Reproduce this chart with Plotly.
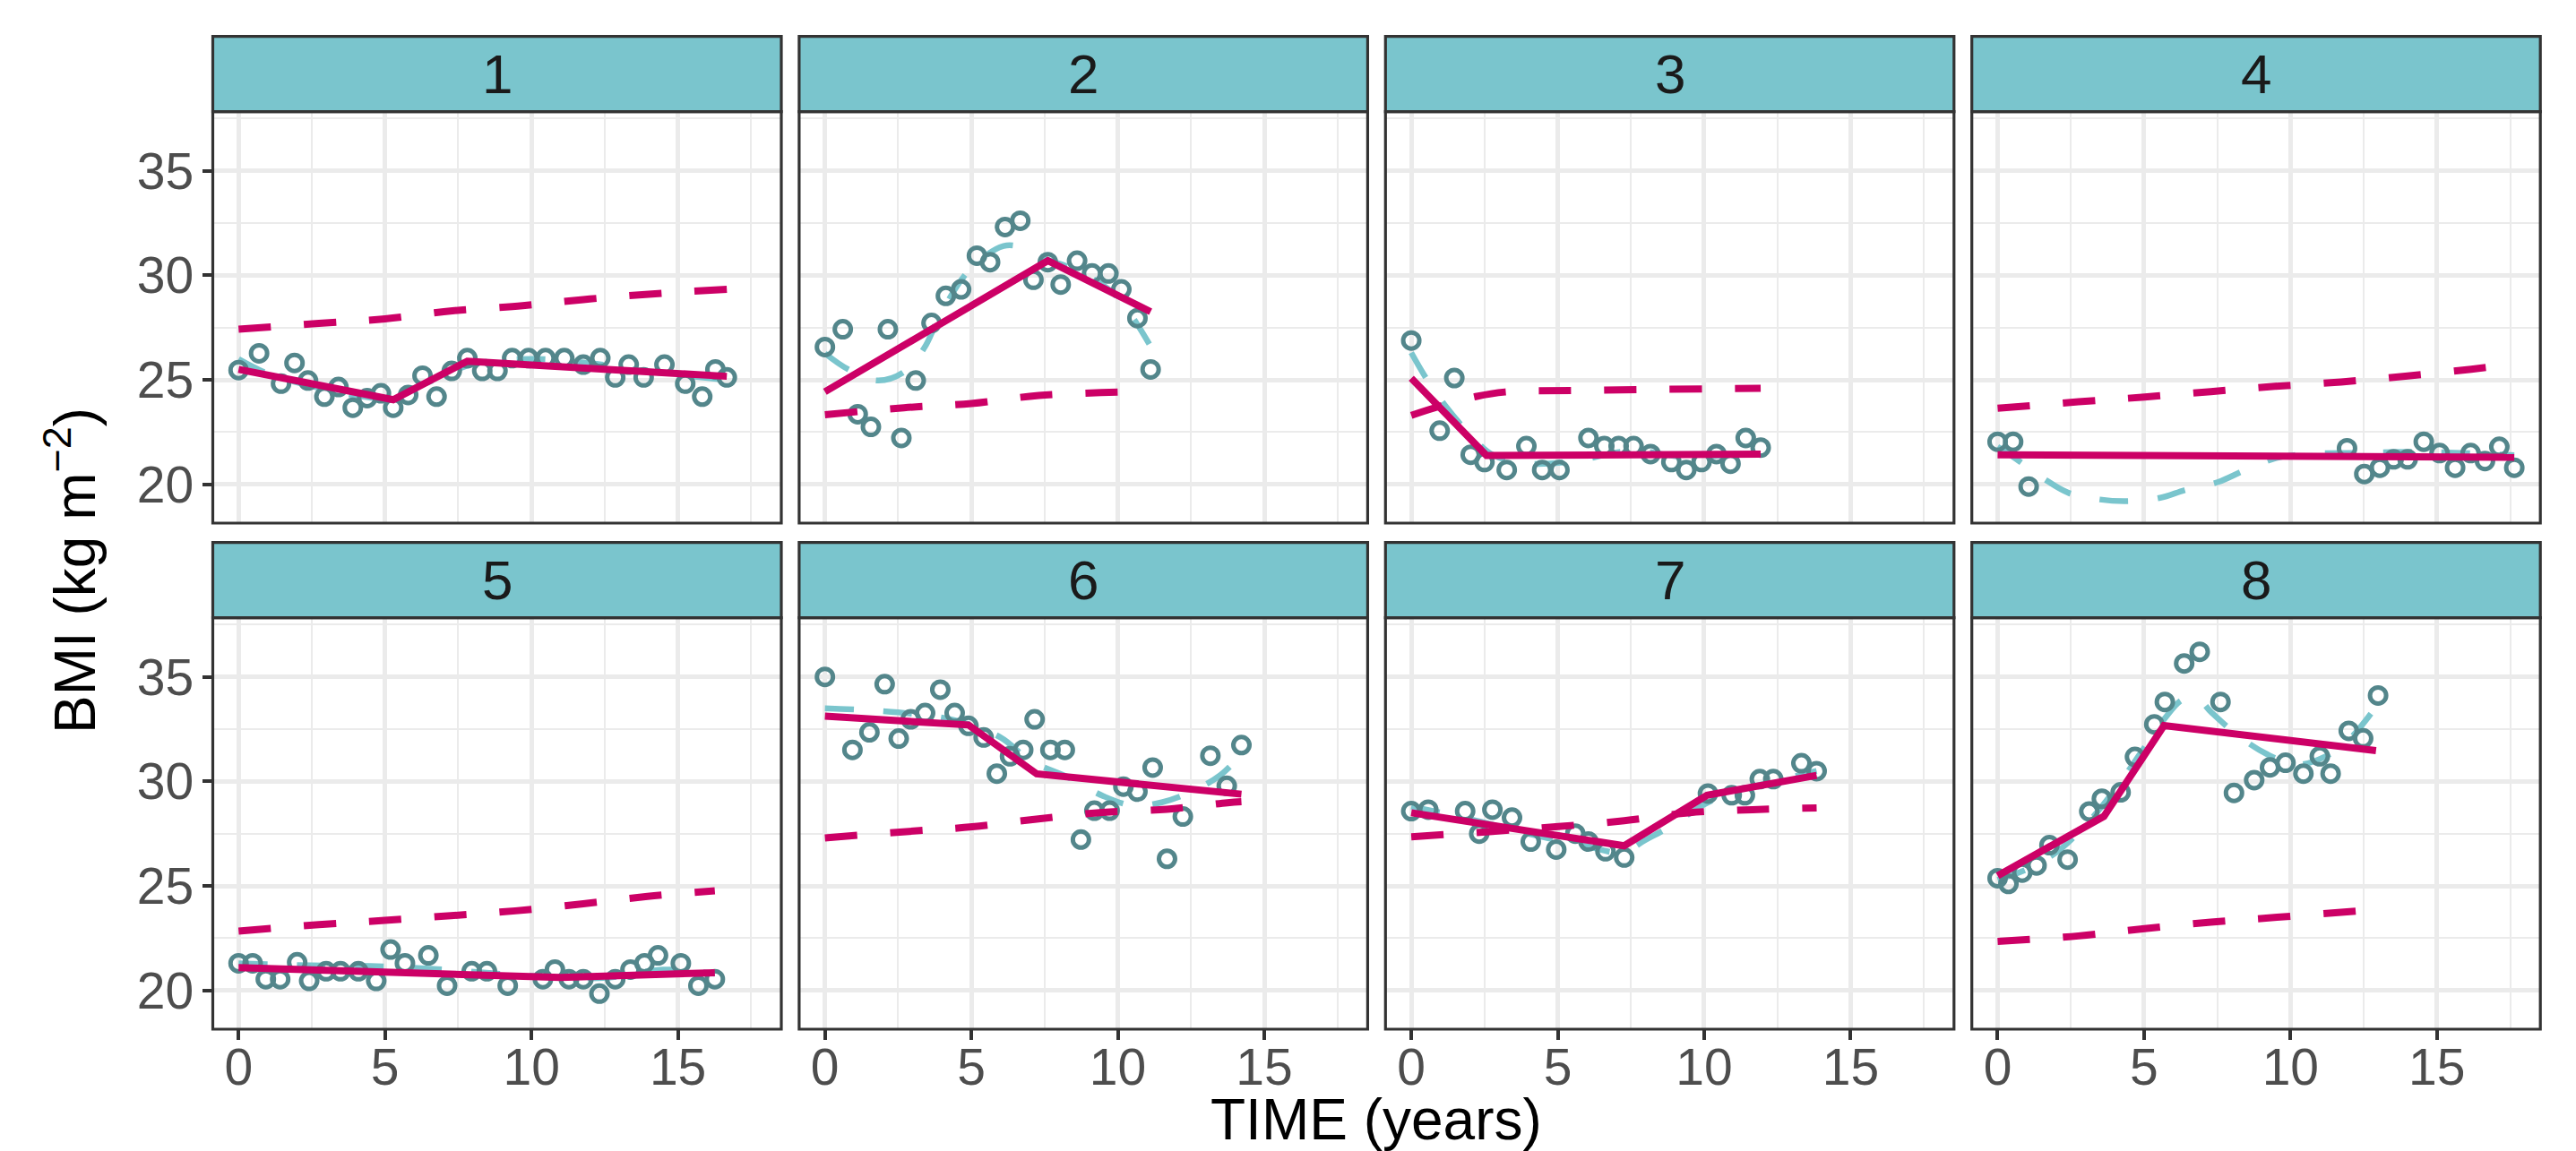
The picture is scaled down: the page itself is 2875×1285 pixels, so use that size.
import plotly.graph_objects as go

W, H = 2875, 1285

# ---------------- data ----------------
panel_labels = ["1", "2", "3", "4", "5", "6", "7", "8"]

# observed BMI (open circles)
p1_time = [0, 0.70, 1.45, 1.91, 2.37, 2.93, 3.41, 3.90, 4.39, 4.86, 5.28, 5.79, 6.28, 6.76, 7.28, 7.81,
           8.32, 8.84, 9.34, 9.90, 10.48, 11.12, 11.77, 12.35, 12.86, 13.32, 13.83, 14.54, 15.25, 15.83, 16.28, 16.67]
p1_bmi = [25.47, 26.27, 24.82, 25.81, 24.97, 24.20, 24.66, 23.67, 24.13, 24.36, 23.67, 24.28, 25.20, 24.20, 25.43, 26.04,
          25.43, 25.43, 26.04, 26.04, 26.04, 26.04, 25.73, 26.04, 25.12, 25.73, 25.12, 25.73, 24.82, 24.20, 25.50, 25.12]

p2_time = [0, 0.61, 1.12, 1.57, 2.15, 2.61, 3.10, 3.64, 4.13, 4.65, 5.19, 5.64, 6.15, 6.67, 7.12, 7.61,
           8.05, 8.61, 9.12, 9.68, 10.12, 10.67, 11.12]
p2_bmi = [26.57, 27.42, 23.36, 22.75, 27.42, 22.22, 24.97, 27.72, 29.02, 29.33, 30.94, 30.63, 32.31, 32.61, 29.79, 30.63,
          29.56, 30.70, 30.09, 30.09, 29.33, 27.95, 25.50]

p3_time = [0, 0.97, 1.47, 2.03, 2.50, 3.26, 3.93, 4.47, 5.06, 6.05, 6.59, 7.08, 7.59, 8.17, 8.88, 9.39,
           9.91, 10.42, 10.90, 11.42, 11.93]
p3_bmi = [26.88, 22.57, 25.09, 21.42, 21.07, 20.69, 21.83, 20.69, 20.69, 22.22, 21.83, 21.83, 21.83, 21.45, 21.07, 20.69,
          21.07, 21.45, 20.99, 22.22, 21.76]

p4_time = [0, 0.53, 1.06, 11.93, 12.52, 13.05, 13.52, 14.00, 14.55, 15.09, 15.62, 16.15, 16.64, 17.13, 17.64]
p4_bmi = [22.04, 22.04, 19.90, 21.73, 20.50, 20.80, 21.20, 21.20, 22.04, 21.50, 20.80, 21.50, 21.12, 21.80, 20.80]

p5_time = [0, 0.48, 0.93, 1.42, 2.00, 2.41, 2.99, 3.48, 4.09, 4.70, 5.19, 5.68, 6.48, 7.12, 7.96, 8.48,
           9.19, 10.39, 10.80, 11.28, 11.77, 12.32, 12.86, 13.38, 13.86, 14.32, 15.10, 15.70, 16.26]
p5_bmi = [21.30, 21.30, 20.54, 20.54, 21.35, 20.46, 20.92, 20.92, 20.92, 20.46, 21.96, 21.30, 21.68, 20.23, 20.92, 20.92,
          20.23, 20.54, 21.00, 20.54, 20.54, 19.85, 20.54, 21.00, 21.30, 21.68, 21.30, 20.23, 20.54]

p6_time = [0, 0.94, 1.52, 2.04, 2.52, 2.93, 3.42, 3.94, 4.43, 4.90, 5.42, 5.87, 6.32, 6.77, 7.16, 7.70,
           8.19, 8.74, 9.20, 9.72, 10.19, 10.67, 11.19, 11.68, 12.22, 13.16, 13.72, 14.22]
p6_bmi = [35.00, 31.51, 32.35, 34.65, 32.05, 32.97, 33.27, 34.39, 33.27, 32.66, 32.10, 30.37, 31.20, 31.51, 32.97, 31.51,
          31.51, 27.22, 28.60, 28.60, 29.75, 29.51, 30.66, 26.30, 28.32, 31.23, 29.79, 31.74]

p7_time = [0, 0.58, 1.84, 2.32, 2.77, 3.44, 4.08, 4.95, 5.60, 6.05, 6.63, 7.27, 10.13, 10.94, 11.39, 11.90,
           12.36, 13.32, 13.84]
p7_bmi = [28.58, 28.65, 28.58, 27.50, 28.65, 28.27, 27.12, 26.74, 27.50, 27.12, 26.66, 26.36, 29.42, 29.34, 29.34, 30.11,
          30.11, 30.87, 30.49]

p8_time = [0, 0.37, 0.84, 1.33, 1.77, 2.39, 3.13, 3.56, 4.20, 4.69, 5.35, 5.71, 6.37, 6.90, 7.61, 8.07,
           8.76, 9.30, 9.83, 10.44, 11.00, 11.37, 11.99, 12.48, 12.99]
p8_bmi = [25.37, 25.10, 25.64, 25.98, 26.95, 26.26, 28.56, 29.17, 29.48, 31.17, 32.73, 33.80, 35.64, 36.20, 33.80, 29.45,
          30.06, 30.67, 30.89, 30.37, 31.20, 30.37, 32.42, 32.06, 34.11]

# individual piecewise fit (solid crimson)
p1_fit_t = [0, 5.28, 7.81, 16.67];       p1_fit_y = [25.50, 24.05, 25.89, 25.17]
p2_fit_t = [0, 7.61, 11.12];             p2_fit_y = [24.43, 30.70, 28.26]
p3_fit_t = [0, 2.57, 11.93];             p3_fit_y = [25.08, 21.38, 21.45]
p4_fit_t = [0, 17.64];                   p4_fit_y = [21.42, 21.30]
p5_fit_t = [0, 11.0, 16.26];             p5_fit_y = [21.10, 20.62, 20.85]
p6_fit_t = [0, 4.90, 7.23, 14.22];       p6_fit_y = [33.12, 32.70, 30.36, 29.39]
p7_fit_t = [0, 7.27, 10.10, 13.84];      p7_fit_y = [28.50, 26.92, 29.34, 30.29]
p8_fit_t = [0, 3.63, 5.68, 12.92];       p8_fit_y = [25.49, 28.33, 32.67, 31.47]

# population mean trajectory (dashed crimson)
p1_pop_t = [0, 2.74, 5.0, 7.3, 9.7, 11.77, 14.0, 16.67]
p1_pop_y = [27.42, 27.70, 27.92, 28.30, 28.55, 28.84, 29.10, 29.33]
p2_pop_t = [0, 2.7, 5.0, 7.3, 11.12]
p2_pop_y = [23.33, 23.67, 23.87, 24.25, 24.45]
p3_pop_t = [0, 1.0, 2.2, 3.2, 6.0, 11.93]
p3_pop_y = [23.30, 23.75, 24.20, 24.42, 24.50, 24.60]
p4_pop_t = [0, 2.76, 5.02, 7.28, 9.47, 11.73, 13.92, 16.17, 17.64]
p4_pop_y = [23.64, 23.95, 24.18, 24.44, 24.69, 24.90, 25.18, 25.51, 25.75]
p5_pop_t = [0, 2.74, 4.99, 7.25, 9.45, 11.77, 13.96, 16.26]
p5_pop_y = [22.84, 23.15, 23.35, 23.58, 23.81, 24.15, 24.50, 24.77]
p6_pop_t = [0, 2.77, 5.03, 7.29, 9.48, 11.68, 13.74, 14.22]
p6_pop_y = [27.30, 27.60, 27.83, 28.21, 28.52, 28.67, 28.98, 29.03]
p7_pop_t = [0, 2.77, 5.02, 7.27, 9.46, 11.65, 13.84]
p7_pop_y = [27.35, 27.61, 27.84, 28.12, 28.50, 28.65, 28.73]
p8_pop_t = [0, 2.76, 5.02, 7.28, 9.54, 12.26, 12.99]
p8_pop_y = [22.35, 22.61, 22.96, 23.27, 23.50, 23.80, 23.88]

# smooth individual curve (dashed light teal)
p1_sm_t = [0, 1.0, 2.5, 4.0, 5.0, 6.5, 8.0, 10.0, 12.0, 14.0, 16.67]
p1_sm_y = [26.00, 25.30, 24.70, 24.25, 24.15, 24.90, 25.75, 26.00, 25.80, 25.40, 25.00]
p2_sm_t = [0, 0.8, 1.77, 2.67, 3.38, 3.9, 4.9, 6.1, 6.8, 7.5, 8.5, 9.8, 10.5, 11.12]
p2_sm_y = [26.27, 25.50, 24.97, 25.35, 26.50, 28.00, 30.20, 31.40, 31.30, 30.80, 30.30, 29.20, 28.00, 26.60]
p3_sm_t = [0, 0.5, 1.2, 2.0, 2.8, 4.0, 5.5, 7.5, 9.5, 11.93]
p3_sm_y = [26.30, 25.10, 23.70, 22.40, 21.40, 21.00, 21.10, 21.60, 21.30, 21.60]
p4_sm_t = [0, 0.65, 1.57, 2.43, 3.49, 4.42, 5.55, 6.41, 7.54, 8.41, 9.54, 10.5, 12.0, 14.5, 17.64]
p4_sm_y = [21.80, 21.20, 20.28, 19.59, 19.28, 19.20, 19.36, 19.74, 20.12, 20.66, 21.27, 21.45, 21.50, 21.55, 21.40]
p5_sm_t = [0, 2.5, 5.0, 7.0, 10.0, 12.5, 14.5, 16.26]
p5_sm_y = [21.30, 21.20, 21.15, 21.00, 20.70, 20.60, 21.00, 20.80]
p6_sm_t = [0, 2.5, 4.5, 6.0, 7.0, 8.3, 9.5, 10.5, 11.5, 12.5, 13.5, 14.22]
p6_sm_y = [33.50, 33.30, 32.90, 32.10, 31.00, 30.20, 29.30, 28.85, 29.00, 29.50, 30.30, 31.30]
p7_sm_t = [0, 2.0, 4.0, 6.0, 7.2, 8.0, 8.9, 10.0, 11.0, 12.4, 13.84]
p7_sm_y = [28.80, 28.20, 27.50, 26.90, 26.60, 27.20, 27.90, 28.90, 29.50, 30.00, 30.50]
p8_sm_t = [0, 1.0, 2.0, 3.0, 4.0, 5.0, 5.7, 6.3, 6.8, 7.3, 8.2, 9.2, 10.2, 11.2, 12.0, 12.99]
p8_sm_y = [25.30, 25.80, 26.60, 27.90, 29.60, 31.60, 33.00, 33.90, 34.00, 33.30, 32.20, 31.30, 30.80, 31.20, 32.00, 33.70]

panels = [
    (p1_time, p1_bmi, p1_fit_t, p1_fit_y, p1_pop_t, p1_pop_y, p1_sm_t, p1_sm_y),
    (p2_time, p2_bmi, p2_fit_t, p2_fit_y, p2_pop_t, p2_pop_y, p2_sm_t, p2_sm_y),
    (p3_time, p3_bmi, p3_fit_t, p3_fit_y, p3_pop_t, p3_pop_y, p3_sm_t, p3_sm_y),
    (p4_time, p4_bmi, p4_fit_t, p4_fit_y, p4_pop_t, p4_pop_y, p4_sm_t, p4_sm_y),
    (p5_time, p5_bmi, p5_fit_t, p5_fit_y, p5_pop_t, p5_pop_y, p5_sm_t, p5_sm_y),
    (p6_time, p6_bmi, p6_fit_t, p6_fit_y, p6_pop_t, p6_pop_y, p6_sm_t, p6_sm_y),
    (p7_time, p7_bmi, p7_fit_t, p7_fit_y, p7_pop_t, p7_pop_y, p7_sm_t, p7_sm_y),
    (p8_time, p8_bmi, p8_fit_t, p8_fit_y, p8_pop_t, p8_pop_y, p8_sm_t, p8_sm_y),
]

x_ticks = [0, 5, 10, 15]
y_ticks = [20, 25, 30, 35]

# ---------------- styles ----------------
FONT = "Liberation Sans, Arial, sans-serif"
CRIMSON = "#CC0066"
TEAL_LIGHT = "#7AC5CD"
TEAL_DARK = "#53868B"
STRIP_FILL = "#7AC5CD"
BORDER = "#333333"
GRID = "#EBEBEB"

X_RANGE = [-0.88, 18.53]
Y_RANGE = [18.15, 37.83]

col_left = [237.5 + 654.4 * i for i in range(4)]
panel_w = 634.5
row_top = [124.6, 689.6]
panel_h = 459.4
strip_h = 84.0

fig = go.Figure()
layout = dict(
    width=W, height=H,
    margin=dict(l=0, r=0, t=0, b=0),
    paper_bgcolor="white", plot_bgcolor="white",
    showlegend=False,
    font=dict(family=FONT),
)
shapes = []
annotations = []

for i, (t, b, ft, fy, pt, py, st, sy) in enumerate(panels):
    r, c = divmod(i, 4)
    k = "" if i == 0 else str(i + 1)
    xa, ya = "x" + k, "y" + k
    x0p, x1p = col_left[c], col_left[c] + panel_w
    y0p, y1p = row_top[r], row_top[r] + panel_h
    bottom = (r == 1)
    left = (c == 0)

    layout["xaxis" + k] = dict(
        domain=[x0p / W, x1p / W], anchor=ya, range=X_RANGE,
        tickmode="array", tickvals=x_ticks, ticktext=[str(v) for v in x_ticks],
        showgrid=True, gridcolor=GRID, gridwidth=4.5,
        minor=dict(tickvals=[2.5, 7.5, 12.5, 17.5], showgrid=True, gridcolor=GRID, gridwidth=2.2, ticks=""),
        zeroline=False, showline=False,
        ticks="outside" if bottom else "", ticklen=11, tickwidth=4, tickcolor=BORDER,
        showticklabels=bottom, ticklabelstandoff=-18,
        tickfont=dict(family=FONT, size=57, color="#4D4D4D"),
        fixedrange=True,
    )
    layout["yaxis" + k] = dict(
        domain=[1 - y1p / H, 1 - y0p / H], anchor=xa, range=Y_RANGE,
        tickmode="array", tickvals=y_ticks, ticktext=[str(v) for v in y_ticks],
        showgrid=True, gridcolor=GRID, gridwidth=4.5,
        minor=dict(tickvals=[22.5, 27.5, 32.5, 37.5], showgrid=True, gridcolor=GRID, gridwidth=2.2, ticks=""),
        zeroline=False, showline=False,
        ticks="outside" if left else "", ticklen=11, tickwidth=4, tickcolor=BORDER,
        showticklabels=left, ticklabelstandoff=-2,
        tickfont=dict(family=FONT, size=57, color="#4D4D4D"),
        fixedrange=True,
    )

    # smooth individual curve
    fig.add_trace(go.Scatter(x=st, y=sy, xaxis=xa, yaxis=ya, mode="lines", line_shape="spline",
                             line=dict(color=TEAL_LIGHT, width=6.5, dash="32px,33px"), hoverinfo="skip"))
    # observations
    fig.add_trace(go.Scatter(x=t, y=b, xaxis=xa, yaxis=ya, mode="markers",
                             marker=dict(symbol="circle-open", size=18, color=TEAL_DARK,
                                         line=dict(width=5, color=TEAL_DARK))))
    # population trajectory
    fig.add_trace(go.Scatter(x=pt, y=py, xaxis=xa, yaxis=ya, mode="lines", line_shape="spline",
                             line=dict(color=CRIMSON, width=8, dash="36px,37px"), hoverinfo="skip"))
    # individual piecewise fit
    fig.add_trace(go.Scatter(x=ft, y=fy, xaxis=xa, yaxis=ya, mode="lines",
                             line=dict(color=CRIMSON, width=8), hoverinfo="skip"))

    # panel border
    shapes.append(dict(type="rect", xref="paper", yref="paper", layer="above",
                       x0=x0p / W, x1=x1p / W, y0=1 - y1p / H, y1=1 - y0p / H,
                       line=dict(color=BORDER, width=3.2), fillcolor="rgba(0,0,0,0)"))
    # strip
    shapes.append(dict(type="rect", xref="paper", yref="paper", layer="above",
                       x0=x0p / W, x1=x1p / W, y0=1 - y0p / H, y1=1 - (y0p - strip_h) / H,
                       line=dict(color=BORDER, width=3.2), fillcolor=STRIP_FILL))
    annotations.append(dict(xref="paper", yref="paper", x=(x0p + x1p) / 2 / W,
                            y=1 - (y0p - strip_h / 2) / H, text=panel_labels[i], showarrow=False,
                            xanchor="center", yanchor="middle",
                            font=dict(family=FONT, size=62, color="#1A1A1A")))

annotations.append(dict(xref="paper", yref="paper", x=(col_left[0] + col_left[3] + panel_w) / 2 / W,
                        y=1 - 1250 / H, text="TIME (years)", showarrow=False,
                        xanchor="center", yanchor="middle",
                        font=dict(family=FONT, size=64, color="black")))
annotations.append(dict(xref="paper", yref="paper", x=79 / W,
                        y=1 - 637 / H, text="BMI (kg m<sup>\u22122</sup>)", showarrow=False,
                        textangle=-90, xanchor="center", yanchor="middle",
                        font=dict(family=FONT, size=64, color="black")))

layout["shapes"] = shapes
layout["annotations"] = annotations
fig.update_layout(**layout)

fig.write_html("out.html", config={"displayModeBar": False},
               post_script="document.body.style.margin='0px';document.body.style.overflow='hidden';")
